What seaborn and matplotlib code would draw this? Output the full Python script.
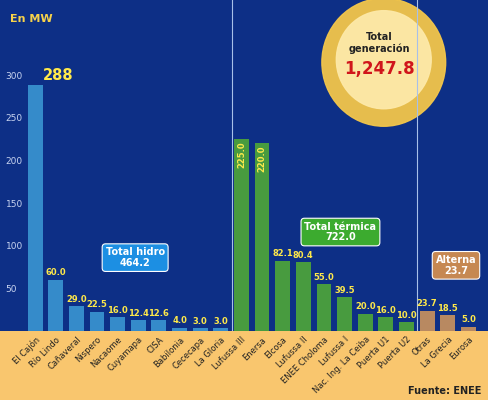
import matplotlib
matplotlib.use("Agg")
import matplotlib.pyplot as plt
import seaborn as sns
import pandas as pd
from matplotlib.patches import Ellipse

plants = ["El Cajón", "Río Lindo", "Cañaveral", "Nispero", "Nacaome", "Cuyamapa", "CISA",
          "Babilonia", "Cececapa", "La Gloria",
          "Lufussa III", "Enersa", "Elcosa", "Lufussa II", "ENEE Choloma", "Lufussa I",
          "Nac. Ing. La Ceiba", "Puerta U1", "Puerta U2",
          "Otras", "La Grecia", "Eurosa"]
values = [288, 60.0, 29.0, 22.5, 16.0, 12.4, 12.6, 4.0, 3.0, 3.0,
          225.0, 220.0, 82.1, 80.4, 55.0, 39.5, 20.0, 16.0, 10.0,
          23.7, 18.5, 5.0]
groups = ["Hidro"] * 10 + ["Térmica"] * 9 + ["Alterna"] * 3
labels = ["288", "60.0", "29.0", "22.5", "16.0", "12.4", "12.6", "4.0", "3.0", "3.0",
          "225.0", "220.0", "82.1", "80.4", "55.0", "39.5", "20.0", "16.0", "10.0",
          "23.7", "18.5", "5.0"]
yticks = [50, 100, 150, 200, 250, 300]

df = pd.DataFrame({"plant": plants, "value": values, "group": groups})
pal = {"Hidro": "#1c8fe3", "Térmica": "#3cab2f", "Alterna": "#c68852"}

fig = plt.figure(figsize=(4.89, 4.0), dpi=100)
fig.patch.set_facecolor("#f9c66e")
ax = fig.add_axes([0, 0.1725, 1, 0.8275])
ax.set_facecolor("#0d2f86")
sns.barplot(data=df, x="plant", y="value", hue="group", palette=pal, dodge=False,
            width=0.72, legend=False, ax=ax)
ax.set_xlim(-1.7, 22.0)
ax.set_ylim(0, 388)
for s in ax.spines.values():
    s.set_visible(False)
ax.set_xlabel(""); ax.set_ylabel("")
ax.set_yticks(yticks)
ax.tick_params(axis="y", direction="in", pad=-4, colors="#c8d4f0", labelsize=6.5, length=0)
for t in ax.get_yticklabels():
    t.set_horizontalalignment("left")
ax.tick_params(axis="x", length=0, labelsize=6, colors="#222222", pad=3)
plt.setp(ax.get_xticklabels(), rotation=45, ha="right", rotation_mode="anchor")
ax.axvline(9.55, color="#a8c0e8", lw=0.8)
ax.axvline(18.5, color="#a8c0e8", lw=0.8)

for i, (v, lab) in enumerate(zip(values, labels)):
    if i == 0:
        ax.text(i + 0.4, v + 3, lab, ha="left", va="bottom", color="#ffe94a", fontsize=10.5, fontweight="bold")
    elif i in (10, 11):
        ax.text(i, v - 3, lab, ha="center", va="top", rotation=90, color="#ffe94a", fontsize=6, fontweight="bold")
    else:
        ax.text(i, v + 3, lab, ha="center", va="bottom", color="#ffe94a", fontsize=6, fontweight="bold")

# bulb
ax.add_patch(Ellipse((16.9, 315), 6.0, 150, color="#f3c64a", alpha=0.95, zorder=1))
ax.add_patch(Ellipse((16.9, 318), 4.6, 115, color="#fde9a8", alpha=0.95, zorder=1))
ax.text(16.7, 338, "Total\ngeneración", ha="center", va="center", fontsize=7, color="#222222", fontweight="bold", zorder=3)
ax.text(16.7, 307, "1,247.8", ha="center", va="center", fontsize=12, color="#d0151b", fontweight="bold", zorder=3)

def box(x, y, txt, fc):
    ax.text(x, y, txt, ha="center", va="center", fontsize=7, color="white", fontweight="bold",
            linespacing=1.1, bbox=dict(boxstyle="round,pad=0.35", fc=fc, ec="white", lw=0.8), zorder=4)
box(4.85, 86, "Total hidro\n464.2", "#1c8fe3")
box(14.8, 116, "Total térmica\n722.0", "#3cab2f")
box(20.4, 77, "Alterna\n23.7", "#c68852")

fig.text(0.02, 0.965, "En MW", color="#f7d24a", fontsize=8, fontweight="bold", va="top")
fig.text(0.985, 0.015, "Fuente: ENEE", color="#222222", fontsize=7, fontweight="bold", ha="right")
fig.savefig("out.png", dpi=100, facecolor=fig.get_facecolor())
